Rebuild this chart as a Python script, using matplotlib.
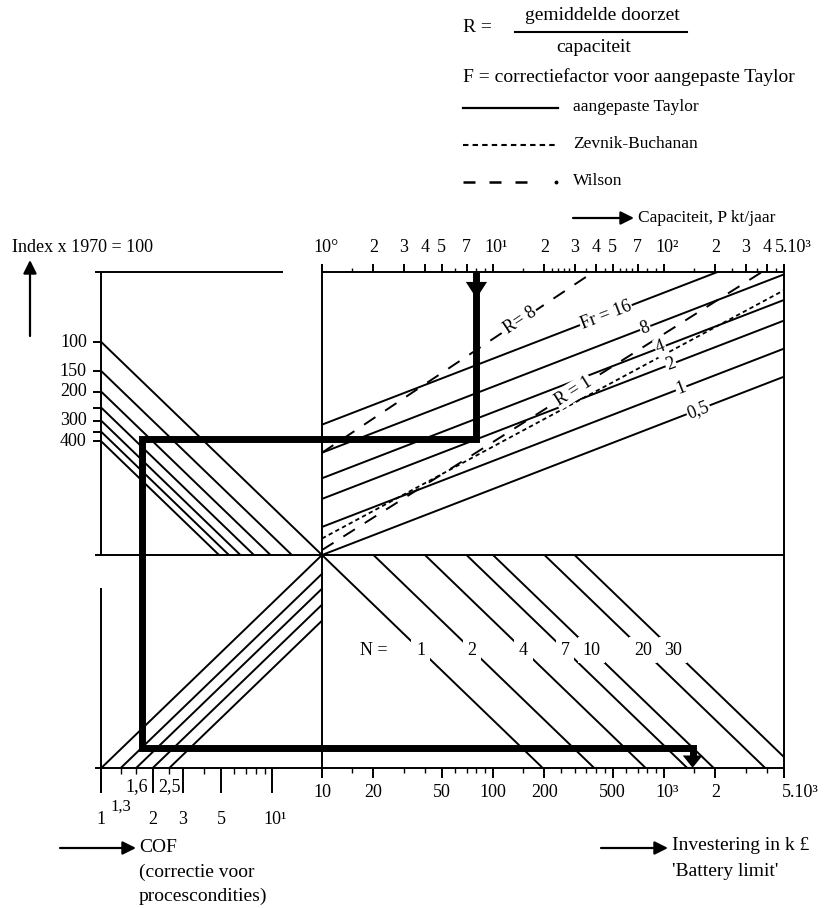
import numpy as np
import matplotlib.pyplot as plt
from matplotlib.transforms import Affine2D

plt.rcParams['font.family'] = ['Liberation Serif', 'DejaVu Serif']

# capaciteit scale (top), P in kt/jaar
capacity_ticks = [1, 2, 3, 4, 5, 7, 10, 20, 30, 40, 50, 70, 100, 200, 300, 400, 500]
capacity_labels = ["10°", "2", "3", "4", "5", "7", "10¹", "2", "3", "4", "5", "7",
                   "10²", "2", "3", "4", "5.10³"]
capacity_minor = [1.5, 6, 8, 9, 15, 22, 24, 26, 28, 35, 45, 55, 60, 65, 80, 90,
                  150, 250, 350, 450]

# investering scale (bottom right), k pound
invest_ticks = [10, 20, 50, 100, 200, 500, 1000, 2000, 5000]
invest_labels = ["10", "20", "50", "100", "200", "500", "10³", "2", "5.10³"]
invest_minor = [15, 30, 40, 60, 70, 80, 90, 150, 250, 300, 350, 400, 450, 600,
                700, 800, 900, 1500, 3000, 4000]

# index scale (upper left)
index_values = [100, 150, 200, 250, 300, 350, 400]
index_labels = ["100", "150", "200", "", "300", "", "400"]

# COF scale (bottom left)
cof_values = [1, 1.3, 1.6, 2, 2.5]
cof_long = [1, 2, 3, 5, 10]
cof_short = [1.3, 1.6, 2.5, 4, 6, 7, 8, 9]

# number of units N (lower right)
n_values = [1, 2, 4, 7, 10, 20, 30]

# capacity lines (upper right): start height at P = 1 and slope, in decades
taylor_names = ["Fr = 16", "8", "4", "2", "1", "0,5"]
taylor_start = [0.79, 0.62, 0.465, 0.34, 0.17, 0.0]
taylor_slope = 0.40
wilson_names = ["R= 8", "R = 1"]
wilson_start = [0.62, 0.03]
wilson_slope = [0.69, 0.655]
zb_start = 0.10
zb_slope = 0.557

# worked example (thick path)
ex_capacity = 8
ex_taylor = 3          # Fr = 2
ex_index = 225
ex_cof = 1.3
ex_n = 10

# ---- layout (decade units) ----
U_LEFT = -1.29
U_RIGHT = np.log10(500)
V_TOP = 1.715
V_BOT = -1.29
V_IDX = 1.29
U_FRAME = -1.325

fig = plt.figure(figsize=(8.31, 9.08), dpi=100)
ax = fig.add_axes([0, 0, 1, 1])
ax.set_xlim(-322 / 171, 509 / 171)
ax.set_ylim(-353 / 165, 555 / 165)
ax.axis('off')

# pixel transform for the header texts (x right, y down)
pix = Affine2D().scale(1 / 831, -1 / 908).translate(0, 1) + fig.transFigure

lw = 1.4
k = 'black'
fs = 13
white = dict(facecolor='white', edgecolor='none', pad=0.8)


def seg(x, y, **kw):
    kw.setdefault('lw', lw)
    kw.setdefault('color', k)
    ax.plot(x, y, solid_capstyle='butt', **kw)


def angle(slope):
    p0 = ax.transData.transform((0, 0))
    p1 = ax.transData.transform((1, slope))
    return np.degrees(np.arctan2(p1[1] - p0[1], p1[0] - p0[0]))


# frame
seg([U_FRAME, -0.228], [V_TOP, V_TOP])
seg([U_LEFT, U_LEFT], [0, V_TOP])
seg([U_LEFT, U_LEFT], [-0.2, V_BOT - 0.15])
seg([U_FRAME, U_RIGHT], [0, 0])
seg([U_FRAME, U_RIGHT], [V_BOT, V_BOT])
seg([0, 0], [V_TOP + 0.05, V_BOT - 0.06])
seg([U_RIGHT, U_RIGHT], [V_TOP + 0.05, V_BOT - 0.06])
seg([0, U_RIGHT], [V_TOP, V_TOP])

# capacity axis
for p in capacity_ticks:
    seg([np.log10(p)] * 2, [V_TOP, V_TOP + 0.05])
for p in capacity_minor:
    seg([np.log10(p)] * 2, [V_TOP, V_TOP + 0.025], lw=1.0)
for p, lab in zip(capacity_ticks, capacity_labels):
    u = np.log10(p)
    if len(lab) > 2:
        ax.text(u - 0.05, V_TOP + 0.10, lab, ha='left', va='bottom', fontsize=fs)
    else:
        ax.text(u, V_TOP + 0.10, lab, ha='center', va='bottom', fontsize=fs)

# investment axis
for c in invest_ticks:
    seg([np.log10(c) - 1] * 2, [V_BOT, V_BOT - 0.06])
for c in invest_minor:
    seg([np.log10(c) - 1] * 2, [V_BOT, V_BOT - 0.03], lw=1.0)
for c, lab in zip(invest_ticks, invest_labels):
    u = np.log10(c) - 1
    if lab.startswith("10³"):
        ax.text(u - 0.05, V_BOT - 0.10, lab, ha='left', va='top', fontsize=fs)
    elif lab.startswith("5."):
        ax.text(u - 0.01, V_BOT - 0.10, lab, ha='left', va='top', fontsize=fs)
    else:
        ax.text(u, V_BOT - 0.10, lab, ha='center', va='top', fontsize=fs)

# COF axis
for c in cof_long:
    seg([U_LEFT + np.log10(c)] * 2, [V_BOT, V_BOT - 0.15])
for c in cof_short:
    seg([U_LEFT + np.log10(c)] * 2, [V_BOT, V_BOT - 0.04], lw=1.0)
for c, lab in [(1.6, "1,6"), (2.5, "2,5")]:
    ax.text(U_LEFT + np.log10(c), V_BOT - 0.115, lab, ha='center', va='center',
            fontsize=fs, bbox=dict(facecolor='white', edgecolor='none', pad=0.2))
for c, lab in [(1, "1"), (2, "2"), (3, "3"), (5, "5")]:
    ax.text(U_LEFT + np.log10(c), V_BOT - 0.31, lab, ha='center', va='center', fontsize=fs)
ax.text(U_LEFT + 1 - 0.05, V_BOT - 0.31, "10¹", ha='left', va='center', fontsize=fs)
ax.text(U_LEFT + np.log10(1.3), V_BOT - 0.235, "1,3", ha='center', va='center', fontsize=12)

# index axis
for i, lab in zip(index_values, index_labels):
    v = V_IDX - np.log10(i / 100)
    seg([U_LEFT - 0.047, U_LEFT], [v, v])
    if lab:
        ax.text(U_LEFT - 0.085, v, lab, ha='right', va='center', fontsize=fs)

# index lines (upper left)
for i in index_values:
    v0 = V_IDX - np.log10(i / 100)
    seg([U_LEFT, U_LEFT + v0], [v0, 0])

# COF lines (lower left)
for c in cof_values:
    u0 = U_LEFT + np.log10(c)
    seg([u0, 0], [V_BOT, V_BOT - u0])

# N lines (lower right)
v_lab = -0.576
for n in n_values:
    u0 = np.log10(n)
    u_end = min(U_RIGHT, u0 - V_BOT)
    seg([u0, u_end], [0, -(u_end - u0)])
    ax.text(u0 - v_lab, v_lab, str(n), ha='center', va='center', fontsize=fs,
            bbox=dict(facecolor='white', edgecolor='none', pad=3.5))
ax.text(0.30, v_lab, "N =", ha='center', va='center', fontsize=fs)


def capacity_line(a, s, **kw):
    u_end = min(U_RIGHT, (V_TOP - a) / s)
    u = np.array([0, u_end])
    seg(u, a + s * u, **kw)


# Taylor (solid), Wilson (dashed), Zevnik-Buchanan (dotted)
taylor_label_u = [1.66, 1.89, 1.98, 2.04, 2.10, 2.20]
for a, name, ul in zip(taylor_start, taylor_names, taylor_label_u):
    capacity_line(a, taylor_slope)
    ax.text(ul, a + taylor_slope * ul, name, ha='center', va='center', fontsize=fs,
            rotation=angle(taylor_slope), rotation_mode='anchor', bbox=white)

capacity_line(zb_start, zb_slope, dashes=(2.4, 1.8), lw=1.3)

wilson_label_u = [1.16, 1.47]
for a, s, name, ul in zip(wilson_start, wilson_slope, wilson_names, wilson_label_u):
    capacity_line(a, s, dashes=(7, 6))
    ax.text(ul, a + s * ul, name, ha='center', va='center', fontsize=fs,
            rotation=angle(s), rotation_mode='anchor', bbox=white)

# worked example path
u_p = np.log10(ex_capacity)
v1 = taylor_start[ex_taylor] + taylor_slope * u_p
u1 = U_LEFT + (V_IDX - np.log10(ex_index / 100)) - v1
v2 = V_BOT + (u1 - (U_LEFT + np.log10(ex_cof)))
u2 = np.log10(ex_n) - v2
ax.plot([u_p, u_p, u1, u1, u2, u2], [V_TOP, v1, v1, v2, v2, V_BOT + 0.06],
        color=k, lw=5, solid_joinstyle='miter', solid_capstyle='butt')
ax.fill([u_p - 0.062, u_p + 0.062, u_p], [V_TOP - 0.06, V_TOP - 0.06, V_TOP - 0.16],
        color=k, lw=0)
ax.fill([u2 - 0.058, u2 + 0.058, u2], [V_BOT + 0.075, V_BOT + 0.075, V_BOT],
        color=k, lw=0)

# header: definitions and legend
hs = 14
ax.text(463, 27, "R =", transform=pix, ha='left', va='center', fontsize=hs)
ax.text(602, 15, "gemiddelde doorzet", transform=pix, ha='center', va='center', fontsize=hs)
ax.plot([515, 687], [32, 32], transform=pix, color=k, lw=1.5)
ax.text(594, 48, "capaciteit", transform=pix, ha='center', va='center', fontsize=hs)
ax.text(463, 77, "F = correctiefactor voor aangepaste Taylor", transform=pix,
        ha='left', va='center', fontsize=hs)
ax.plot([463, 558], [108, 108], transform=pix, color=k, lw=1.6)
ax.text(573, 107, "aangepaste Taylor", transform=pix, ha='left', va='center', fontsize=12.5)
ax.plot([463, 558], [145, 145], transform=pix, color=k, lw=1.5, dashes=(2.6, 2.0))
ax.text(573, 144, "Zevnik-Buchanan", transform=pix, ha='left', va='center', fontsize=12.5)
ax.plot([463, 527], [182, 182], transform=pix, color=k, lw=1.8, dashes=(4.8, 5.6))
ax.plot([556], [182], transform=pix, color=k, marker='o', ms=1.8, lw=0)
ax.text(573, 181, "Wilson", transform=pix, ha='left', va='center', fontsize=12.5)

arrow = dict(arrowstyle='-|>', color=k, lw=1.6, mutation_scale=20, shrinkA=0, shrinkB=0)
ax.annotate("", xy=(634, 218), xytext=(573, 218), xycoords=pix, textcoords=pix, arrowprops=arrow)
ax.text(638, 218, "Capaciteit, P kt/jaar", transform=pix, ha='left', va='center', fontsize=12.5)

ax.text(12, 248, "Index x 1970 = 100", transform=pix, ha='left', va='center', fontsize=13)
ax.annotate("", xy=(30, 260), xytext=(30, 336), xycoords=pix, textcoords=pix, arrowprops=arrow)

ax.annotate("", xy=(136, 848), xytext=(60, 848), xycoords=pix, textcoords=pix, arrowprops=arrow)
ax.text(139, 848, "COF", transform=pix, ha='left', va='center', fontsize=hs)
ax.text(139, 872, "(correctie voor", transform=pix, ha='left', va='center', fontsize=hs)
ax.text(139, 896, "procescondities)", transform=pix, ha='left', va='center', fontsize=hs)

ax.annotate("", xy=(668, 848), xytext=(601, 848), xycoords=pix, textcoords=pix, arrowprops=arrow)
ax.text(672, 846, "Investering in k £", transform=pix, ha='left', va='center', fontsize=hs)
ax.text(672, 872, "'Battery limit'", transform=pix, ha='left', va='center', fontsize=hs)

fig.savefig("out.png", dpi=100)
